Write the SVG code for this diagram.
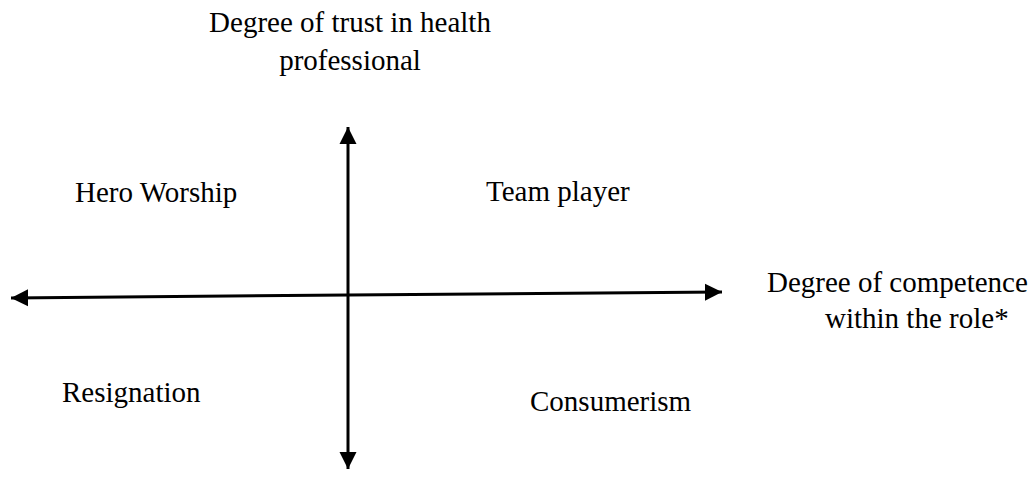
<svg xmlns="http://www.w3.org/2000/svg" width="1034" height="491" viewBox="0 0 1034 491">
<style>
text{font-family:"Liberation Serif","Times New Roman",serif;font-size:29px;fill:#000}
.ax{stroke:#000;stroke-width:3;fill:none}
</style>
<defs>
<marker id="ah" viewBox="0 0 10 10" refX="10" refY="5" markerWidth="5.8" markerHeight="5.8" orient="auto" markerUnits="strokeWidth">
<path d="M0,0 L10,5 L0,10 Z" fill="#000"/>
</marker>
</defs>
<rect width="1034" height="491" fill="#fff"/>
<g id="connectors">
<line class="ax" x1="348" y1="295" x2="11" y2="298" marker-end="url(#ah)"/>
<line class="ax" x1="348" y1="295" x2="722" y2="292" marker-end="url(#ah)"/>
<line class="ax" x1="348" y1="295" x2="348" y2="127" marker-end="url(#ah)"/>
<line class="ax" x1="348" y1="295" x2="348" y2="469" marker-end="url(#ah)"/>
</g>
<g id="y-axis-label"><text x="350" y="32" text-anchor="middle">Degree of trust in health</text><text x="350" y="70" text-anchor="middle">professional</text></g>
<g id="x-axis-label"><text x="767" y="292">Degree of competence</text><text x="825" y="328">within the role*</text></g>
<g id="hero-worship"><text x="75" y="202">Hero Worship</text></g>
<g id="team-player"><text x="486" y="201">Team player</text></g>
<g id="resignation"><text x="62" y="402">Resignation</text></g>
<g id="consumerism"><text x="530" y="411">Consumerism</text></g>
</svg>
